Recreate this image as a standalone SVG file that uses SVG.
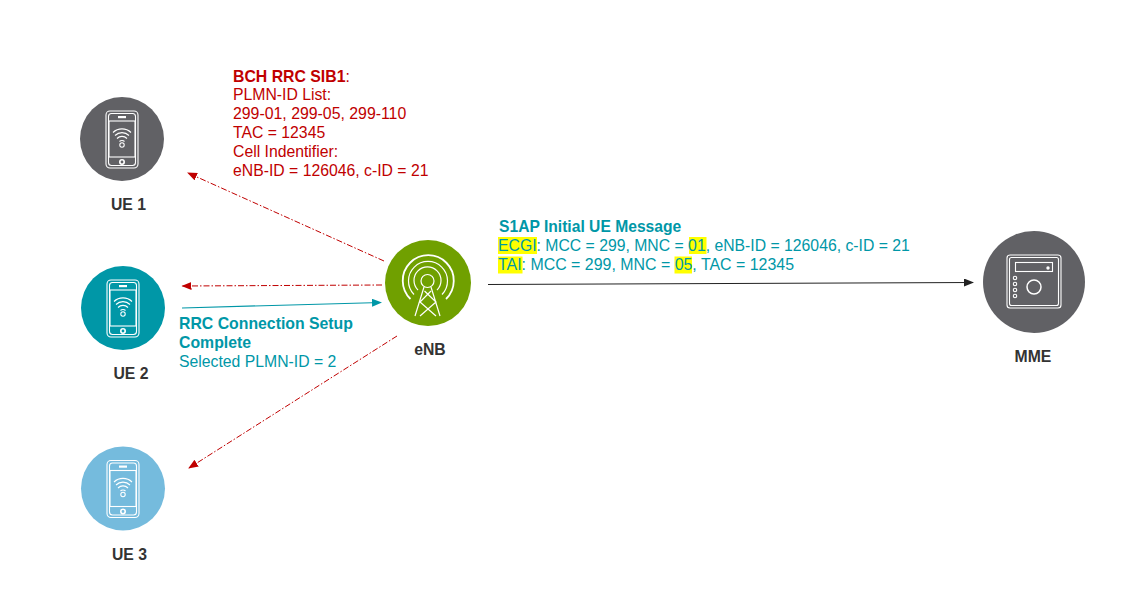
<svg xmlns="http://www.w3.org/2000/svg" xmlns:xlink="http://www.w3.org/1999/xlink" width="1127" height="592" viewBox="0 0 1127 592">
<style>
text{font-family:"Liberation Sans",Arial,sans-serif;font-size:15.77px}
.b{font-weight:bold;font-size:15.65px}
.b2{font-weight:bold;font-size:15.82px}
.lbl{font-weight:bold;fill:#333;text-anchor:middle}
.red{fill:#c00000}
.teal{fill:#0097a7}
.ic{fill:none;stroke:#fff;stroke-width:1.100}
.ict{fill:none;stroke:#fff;stroke-width:1.600}
.hl{fill:#ffff00}
.dash{fill:none;stroke:#c00000;stroke-width:1;stroke-dasharray:6 2 1.5 2}
</style>
<defs>
<marker id="ar" markerWidth="10" markerHeight="8" refX="9" refY="4" orient="auto" markerUnits="userSpaceOnUse"><path d="M0 0L10 4L0 8Z" fill="#c00000"/></marker>
<marker id="at" markerWidth="10" markerHeight="8" refX="9" refY="4" orient="auto" markerUnits="userSpaceOnUse"><path d="M0 0L10 4L0 8Z" fill="#0097a7"/></marker>
<marker id="ak" markerWidth="10" markerHeight="8" refX="9" refY="4" orient="auto" markerUnits="userSpaceOnUse"><path d="M0 0L10 4L0 8Z" fill="#222"/></marker>
<g id="phone">
<rect class="ic" x="-16" y="-28" width="32" height="57" rx="4"/>
<rect class="ic" x="-13.500" y="-25.500" width="27" height="52" rx="3"/>
<rect class="ic" x="-13" y="-18" width="26" height="36"/>
<rect x="-4" y="-23" width="8" height="2.200" fill="#fff"/>
<circle class="ict" cx="0" cy="23" r="2.200"/>
<path class="ic" d="M-9 -6.500A13 13 0 0 1 9 -6.500M-7 -3.500A10 10 0 0 1 7 -3.500M-5 -0.500A7 7 0 0 1 5 -0.500M-2.500 2.500A3.500 3.500 0 0 1 2.500 2.500"/>
<circle class="ic" cx="0" cy="6" r="2.200"/>
</g>
</defs>

<g id="connectors">
<path class="dash" d="M384 261L188 173" marker-end="url(#ar)"/>
<path class="dash" d="M382 285L182.500 286" marker-end="url(#ar)"/>
<path class="dash" d="M397 336L189 468" marker-end="url(#ar)"/>
<path d="M182 308L381 302.500" fill="none" stroke="#0097a7" stroke-width="1.200" marker-end="url(#at)"/>
<path d="M488 284.500L973 282.500" fill="none" stroke="#222" stroke-width="1" marker-end="url(#ak)"/>
</g>

<g id="ue1">
<circle cx="122" cy="139" r="42" fill="#616165"/>
<use xlink:href="#phone" href="#phone" x="122" y="139"/>
<text class="lbl" x="128.500" y="210">UE 1</text>
</g>
<g id="ue2">
<circle cx="123" cy="308" r="42" fill="#0097a7"/>
<use xlink:href="#phone" href="#phone" x="123" y="308"/>
<text class="lbl" x="131" y="379">UE 2</text>
</g>
<g id="ue3">
<circle cx="123" cy="488.500" r="42" fill="#75bbdd"/>
<use xlink:href="#phone" href="#phone" x="123" y="488.500"/>
<text class="lbl" x="129.500" y="560">UE 3</text>
</g>
<g id="enb">
<circle cx="428" cy="283" r="43" fill="#70a000"/>
<g fill="none" stroke="#fff">
<path stroke-width="1.800" d="M410.500 299A25.500 25.500 0 1 1 446 299"/>
<path stroke-width="1.200" d="M414 294.500A19.500 19.500 0 1 1 442 294.500"/>
<path stroke-width="1.200" d="M418 290A13.500 13.500 0 1 1 437 290"/>
<circle cx="427.500" cy="281" r="6.500" stroke-width="1.200"/>
<path stroke-width="1.200" d="M424 287L415 316M431 287L440 316M424.500 291L436 302L420 316M431 291L420 302L436 316"/>
</g>
<text class="lbl" x="430" y="355">eNB</text>
</g>
<g id="mme">
<circle cx="1034" cy="282" r="51" fill="#616165"/>
<g class="ic">
<rect x="1007" y="255" width="54" height="53" rx="3"/>
<rect x="1009.500" y="257.500" width="49" height="48" rx="2"/>
<rect x="1015.500" y="262.500" width="37" height="9"/>
<circle cx="1034" cy="287" r="7" stroke-width="1.500"/>
<circle cx="1015" cy="278" r="1.700"/>
<circle cx="1015" cy="284" r="1.700"/>
<circle cx="1015" cy="290" r="1.700"/>
<circle cx="1015" cy="296" r="1.700"/>
</g>
<circle cx="1048" cy="268" r="1.700" fill="#fff"/>
<text class="lbl" x="1033" y="362">MME</text>
</g>

<g id="bch-label">
<text x="233" y="81.500" class="red"><tspan class="b2">BCH RRC SIB1</tspan>:</text>
<text x="233" y="100" class="red">PLMN-ID List:</text>
<text x="233" y="119" class="red" style="font-size:15.85px">299-01, 299-05, 299-110</text>
<text x="233" y="138" class="red">TAC = 12345</text>
<text x="233" y="157" class="red">Cell Indentifier:</text>
<text x="233" y="176" class="red">eNB-ID = 126046, c-ID = 21</text>
</g>
<g id="rrc-label">
<text x="179" y="329" class="teal b2">RRC Connection Setup</text>
<text x="179" y="348" class="teal b2">Complete</text>
<text x="179" y="367" class="teal">Selected PLMN-ID = 2</text>
</g>
<g id="s1ap-label">
<rect class="hl" x="498" y="237" width="39" height="17"/>
<rect class="hl" x="689" y="237" width="17.500" height="17"/>
<rect class="hl" x="498" y="256.500" width="24.500" height="17"/>
<rect class="hl" x="674.500" y="256.500" width="17.500" height="17"/>
<text x="499" y="232" class="teal b">S1AP Initial UE Message</text>
<text x="498" y="251" class="teal">ECGI: MCC = 299, MNC = 01, eNB-ID = 126046, c-ID = 21</text>
<text x="498" y="270" class="teal" style="font-size:15.93px">TAI: MCC = 299, MNC = 05, TAC = 12345</text>
</g>
</svg>
